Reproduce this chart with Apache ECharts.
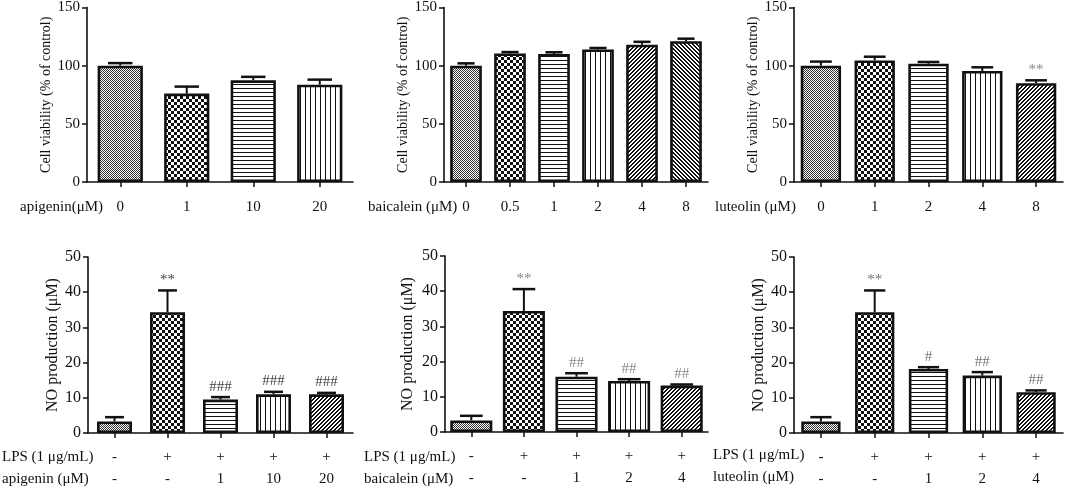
<!DOCTYPE html>
<html>
<head>
<meta charset="utf-8">
<script src="https://cdn.jsdelivr.net/npm/echarts@6/dist/echarts.min.js"></script>
<style>
  html, body { margin: 0; padding: 0; background: #fff; }
  #main { width: 1065px; height: 492px; }
</style>
</head>
<body>
<div id="main"></div>
<script>
// cell viability (% of control), mean and +SD
const apigeninDose = ['0', '1', '10', '20'];
const apigeninViab = [100, 76, 87.4, 83.7];
const apigeninViabSd = [2.2, 6, 3, 4.3];

const baicaleinDose = ['0', '0.5', '1', '2', '4', '8'];
const baicaleinViab = [100, 110.5, 110, 114, 118, 121];
const baicaleinViabSd = [2, 1.2, 1.5, 1.2, 2.5, 2.2];

const luteolinDose = ['0', '1', '2', '4', '8'];
const luteolinViab = [100, 104.5, 101.7, 95.4, 84.9];
const luteolinViabSd = [3.5, 3.2, 1.5, 3.2, 2.5];
const luteolinViabMark = ['', '', '', '', '**'];

// NO production (μM)
const lpsRow = ['-', '+', '+', '+', '+'];
const apigeninNoDose = ['-', '-', '1', '10', '20'];
const apigeninNo = [3.3, 34.3, 9.5, 11, 11];
const apigeninNoSd = [1.2, 6.2, 0.7, 0.7, 0.4];
const apigeninNoMark = ['', '**', '###', '###', '###'];

const baicaleinNoDose = ['-', '-', '1', '2', '4'];
const baicaleinNo = [3.3, 34.4, 15.7, 14.5, 13.2];
const baicaleinNoSd = [1.3, 6.2, 1.0, 0.5, 0.3];
const baicaleinNoMark = ['', '**', '##', '##', '##'];

const luteolinNoDose = ['-', '-', '1', '2', '4'];
const luteolinNo = [3.3, 34.3, 18.2, 16.3, 11.6];
const luteolinNoSd = [1.2, 6.2, 0.5, 1.0, 0.5];
const luteolinNoMark = ['', '**', '#', '##', '##'];

const FONT = "'Liberation Serif', 'Times New Roman', serif";
const INK = '#111';

// fill patterns like the graphpad ones
function makePattern(kind) {
  const c = document.createElement('canvas');
  const ctx = c.getContext('2d');
  let s = 4;
  if (kind === 'fine') s = 2;
  if (kind === 'check') s = 6;
  if (kind === 'vline') s = 5;
  c.width = s; c.height = s;
  ctx.fillStyle = '#fff';
  ctx.fillRect(0, 0, s, s);
  ctx.fillStyle = '#111';
  if (kind === 'fine') {
    ctx.fillStyle = '#333';
    ctx.fillRect(0, 0, 1, 1);
    ctx.fillRect(1, 1, 1, 1);
  } else if (kind === 'check') {
    ctx.fillRect(0, 0, 3, 3);
    ctx.fillRect(3, 3, 3, 3);
  } else if (kind === 'hline') {
    ctx.fillRect(0, 0, s, 1);
  } else if (kind === 'vline') {
    ctx.fillRect(0, 0, 1, s);
  } else if (kind === 'up') {
    for (let i = 0; i < s; i++) {
      ctx.fillRect(i, s - 1 - i, 1, 1);
      ctx.fillRect((i + 1) % s, s - 1 - i, 1, 1);
    }
  } else if (kind === 'down') {
    for (let i = 0; i < s; i++) {
      ctx.fillRect(i, i, 1, 1);
      ctx.fillRect((i + 1) % s, i, 1, 1);
    }
  }
  return { image: c, repeat: 'repeat' };
}
const patternOrder = ['fine', 'check', 'hline', 'vline', 'up', 'down'].map(makePattern);

function errorRender(marks, frac, markColor) {
  return function (params, api) {
    const i = api.value(0);
    const mean = api.value(1);
    const sd = api.value(2);
    const p0 = api.coord([i, mean]);
    const p1 = api.coord([i, mean + sd]);
    const half = api.size([1, 0])[0] * frac * 0.27;
    const kids = [
      { type: 'line', shape: { x1: p0[0], y1: p0[1], x2: p1[0], y2: p1[1] }, style: { stroke: INK, lineWidth: 2 } },
      { type: 'line', shape: { x1: p1[0] - half, y1: p1[1], x2: p1[0] + half, y2: p1[1] }, style: { stroke: INK, lineWidth: 2.5 } }
    ];
    const m = marks ? marks[params.dataIndex] : '';
    if (m) {
      kids.push({
        type: 'text', x: p1[0], y: p1[1] - 3,
        style: { text: m, fill: markColor, fontSize: 15, fontFamily: FONT, align: 'center', verticalAlign: 'bottom' }
      });
    }
    return { type: 'group', children: kids };
  };
}

const panels = [
  { grid: { left: 87, top: 7, width: 266, height: 175 }, cats: apigeninDose, vals: apigeninViab, sd: apigeninViabSd, bw: 0.68, top: true, markColor: '#555', gap: 33 },
  { grid: { left: 444, top: 7, width: 264, height: 175 }, cats: baicaleinDose, vals: baicaleinViab, sd: baicaleinViabSd, bw: 0.72, top: true, markColor: '#555', gap: 31 },
  { grid: { left: 794, top: 7, width: 269, height: 175 }, cats: luteolinDose, vals: luteolinViab, sd: luteolinViabSd, marks: luteolinViabMark, bw: 0.75, top: true, markColor: '#888', gap: 28 },
  { grid: { left: 88, top: 257, width: 265, height: 176 }, cats: apigeninNoDose, vals: apigeninNo, sd: apigeninNoSd, marks: apigeninNoMark, bw: 0.66, top: false, markColor: '#444', gap: 27 },
  { grid: { left: 445, top: 256, width: 263, height: 176 }, cats: baicaleinNoDose, vals: baicaleinNo, sd: baicaleinNoSd, marks: baicaleinNoMark, bw: 0.8, top: false, markColor: '#888', gap: 29 },
  { grid: { left: 794, top: 257, width: 269, height: 176 }, cats: luteolinNoDose, vals: luteolinNo, sd: luteolinNoSd, marks: luteolinNoMark, bw: 0.73, top: false, markColor: '#777', gap: 26 }
];

const axisLine = { show: true, lineStyle: { color: INK, width: 1.6 } };
function txt(size) { return { color: '#111', fontSize: size, fontFamily: FONT }; }

const grids = [], xAxes = [], yAxes = [], series = [];
panels.forEach((p, k) => {
  grids.push(p.grid);
  xAxes.push({
    type: 'category', gridIndex: k, data: p.cats,
    axisLine: axisLine,
    axisTick: { show: true, alignWithLabel: true, length: 5, lineStyle: { color: INK, width: 1.5 } },
    axisLabel: p.top
      ? Object.assign({ margin: 17, lineHeight: 16 }, txt(15))
      : Object.assign({ margin: 13, lineHeight: 22, formatter: (v, i) => lpsRow[i] + '\n' + v }, txt(15))
  });
  yAxes.push({
    type: 'value', gridIndex: k, min: 0,
    max: p.top ? 150 : 50, interval: p.top ? 50 : 10,
    name: p.top ? 'Cell viability (% of control)' : 'NO production (μM)',
    nameLocation: 'middle', nameGap: p.gap,
    nameTextStyle: txt(p.top ? 14 : 16),
    axisLine: axisLine,
    axisTick: { show: true, length: 5, lineStyle: { color: INK, width: 1.5 } },
    axisLabel: Object.assign({ margin: 7 }, txt(p.top ? 15 : 16)),
    splitLine: { show: false }
  });
  series.push({
    type: 'bar', xAxisIndex: k, yAxisIndex: k,
    barWidth: (p.bw * 100) + '%',
    data: p.vals.map((v, i) => ({ value: v, itemStyle: { color: patternOrder[i] } })),
    itemStyle: { borderColor: INK, borderWidth: 2.6 },
    z: 2
  });
  series.push({
    type: 'custom', xAxisIndex: k, yAxisIndex: k,
    renderItem: errorRender(p.marks, p.bw, p.markColor),
    data: p.vals.map((v, i) => [i, v, p.sd[i]]),
    z: 3
  });
});

function label(text, x, y, lh) {
  return { type: 'text', left: x, top: y, style: { text: text, fill: '#111', fontSize: 15, fontFamily: FONT, lineHeight: lh } };
}

const chart = echarts.init(document.getElementById('main'), null, { renderer: 'canvas' });
chart.setOption({
  animation: false,
  backgroundColor: '#fff',
  grid: grids,
  xAxis: xAxes,
  yAxis: yAxes,
  series: series,
  graphic: [
    label('apigenin(μM)', 20, 199, 16),
    label('baicalein (μM)', 368, 199, 16),
    label('luteolin (μM)', 715, 199, 16),
    label('LPS (1 μg/mL)\napigenin (μM)', 2, 446, 22),
    label('LPS (1 μg/mL)\nbaicalein (μM)', 364, 446, 22),
    label('LPS (1 μg/mL)\nluteolin (μM)', 713, 444, 22)
  ]
});
</script>
</body>
</html>
